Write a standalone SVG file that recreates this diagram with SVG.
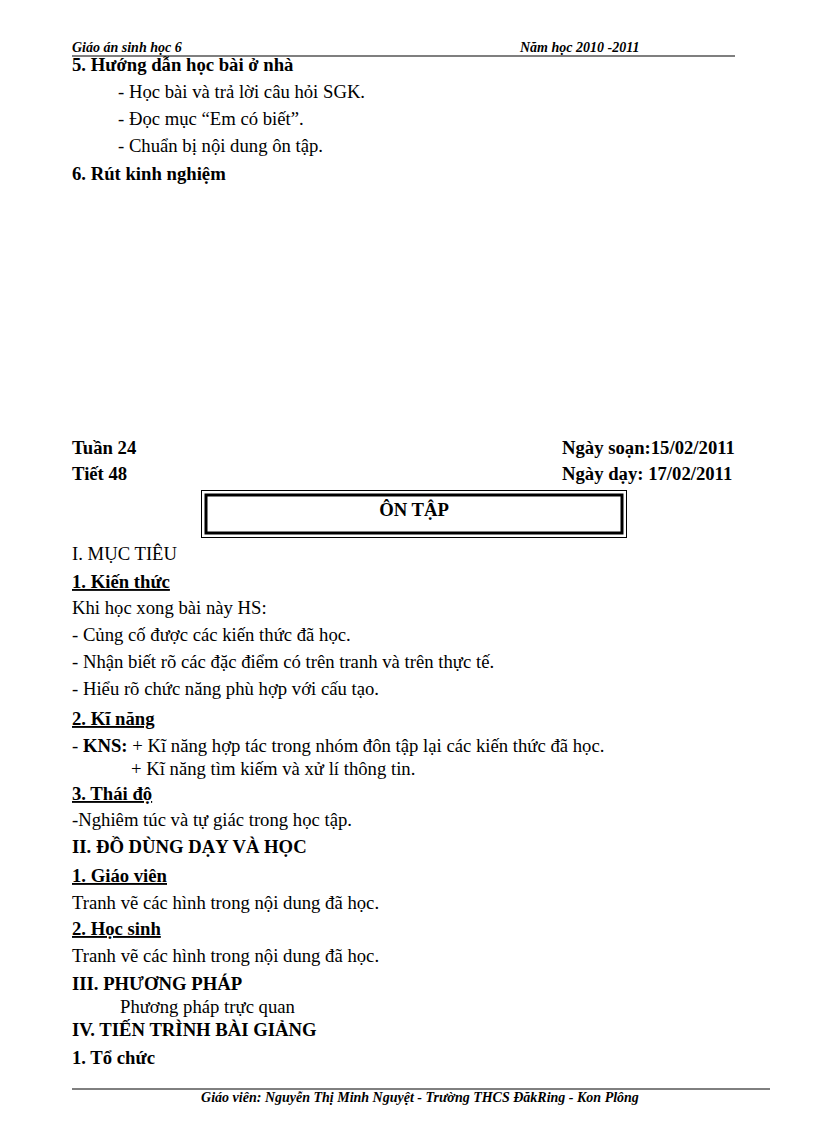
<svg xmlns="http://www.w3.org/2000/svg" width="816" height="1123" viewBox="0 0 816 1123">
<style>
text{font-family:"Liberation Serif",serif;fill:#000}
.b{font-weight:bold}
.t{font-size:18.7px}
.h{font-size:14px;font-style:italic;font-weight:bold}
.u{text-decoration:underline}
</style>
<rect width="816" height="1123" fill="#fff"/>
<g id="header">
<text x="72" y="52" class="h">Giáo án sinh học 6</text>
<text x="520" y="52" class="h">Năm học 2010 -2011</text>
<line x1="72" y1="56" x2="735" y2="56" stroke="#000" stroke-width="1.2"/>
</g>
<g class="t">
<text x="72" y="71" class="b">5. Hướng dẫn học bài ở nhà</text>
<text x="118" y="98">- Học bài và trả lời câu hỏi SGK.</text>
<text x="118" y="125">- Đọc mục “Em có biết”.</text>
<text x="118" y="152">- Chuẩn bị nội dung ôn tập.</text>
<text x="72" y="180" class="b">6. Rút kinh nghiệm</text>
<text x="72" y="454" class="b">Tuần 24</text>
<text x="562" y="454" class="b">Ngày soạn:15/02/2011</text>
<text x="72" y="480" class="b">Tiết 48</text>
<text x="562" y="480" class="b">Ngày dạy: 17/02/2011</text>
</g>
<g id="title">
<rect x="201.5" y="490.5" width="425" height="47" fill="none" stroke="#000" stroke-width="1"/>
<rect x="206" y="495" width="416" height="38" fill="none" stroke="#000" stroke-width="3"/>
<text x="414" y="516" text-anchor="middle" class="t b">ÔN TẬP</text>
</g>
<g class="t">
<text x="72" y="560">I. MỤC TIÊU</text>
<text x="72" y="588" class="b u">1. Kiến thức</text>
<text x="72" y="614">Khi học xong bài này HS:</text>
<text x="72" y="641">- Củng cố được các kiến thức đã học.</text>
<text x="72" y="668">- Nhận biết rõ các đặc điểm có trên tranh và trên thực tế.</text>
<text x="72" y="695">- Hiểu rõ chức năng phù hợp với cấu tạo.</text>
<text x="72" y="725" class="b u">2. Kĩ năng</text>
<text x="72" y="752">- <tspan class="b">KNS:</tspan> + Kĩ năng hợp tác trong nhóm đôn tập lại các kiến thức đã học.</text>
<text x="131" y="775">+ Kĩ năng tìm kiếm và xử lí thông tin.</text>
<text x="72" y="800" class="b u">3. Thái độ</text>
<text x="72" y="826">-Nghiêm túc và tự giác trong học tập.</text>
<text x="72" y="853" class="b">II. ĐỒ DÙNG DẠY VÀ HỌC</text>
<text x="72" y="882" class="b u">1. Giáo viên </text>
<text x="72" y="909">Tranh vẽ các hình trong nội dung đã học.</text>
<text x="72" y="935" class="b u">2. Học sinh</text>
<text x="72" y="962">Tranh vẽ các hình trong nội dung đã học.</text>
<text x="72" y="990" class="b">III. PHƯƠNG PHÁP</text>
<text x="120" y="1013">Phương pháp trực quan</text>
<text x="72" y="1036" class="b">IV. TIẾN TRÌNH BÀI GIẢNG</text>
<text x="72" y="1064" class="b">1. Tổ chức</text>
</g>
<g id="footer">
<line x1="72" y1="1089" x2="770" y2="1089" stroke="#000" stroke-width="1"/>
<text x="420" y="1102" text-anchor="middle" class="h">Giáo viên: Nguyễn Thị Minh Nguyệt - Trường  THCS ĐăkRing - Kon Plông</text>
</g>
</svg>
